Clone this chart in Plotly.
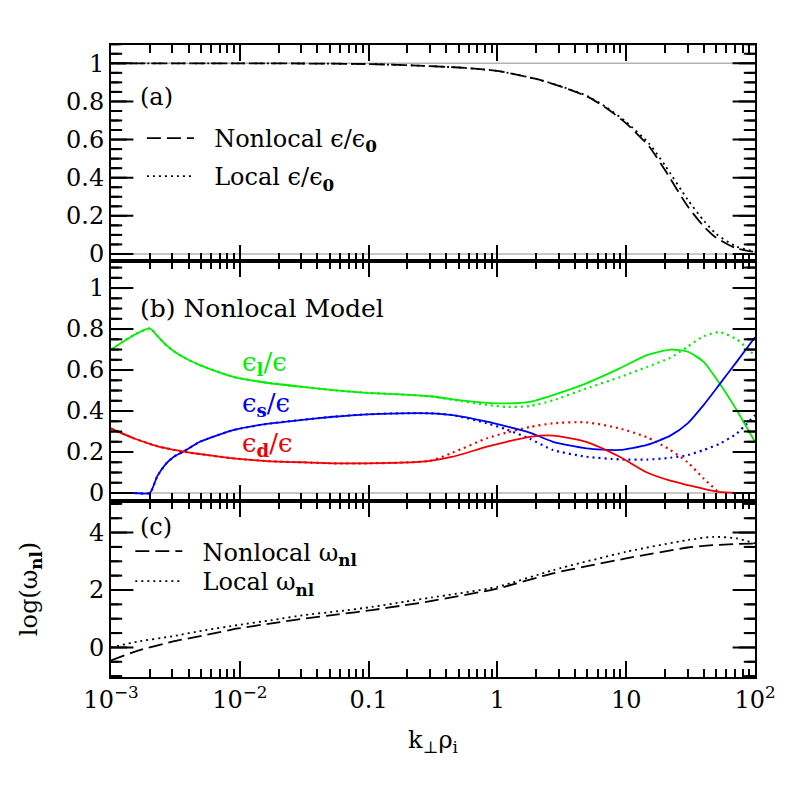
import plotly.graph_objects as go

# ---------------- data ----------------
# panel (a): normalized cascade energy
k_a = [0.001, 0.01, 0.03, 0.1, 0.2, 0.5, 1, 2, 3, 5, 7, 10, 15, 20, 30, 40, 50, 70, 100]
eps_nonlocal = [1.0, 1.0, 0.999, 0.996, 0.99, 0.978, 0.96, 0.918, 0.882, 0.825, 0.765,
                0.685, 0.565, 0.44, 0.25, 0.145, 0.085, 0.032, 0.01]
eps_local = [1.0, 1.0, 0.999, 0.996, 0.99, 0.978, 0.96, 0.918, 0.883, 0.828, 0.77,
             0.692, 0.58, 0.465, 0.285, 0.175, 0.105, 0.042, 0.012]

# panel (b): energy fractions
k_b = [0.001, 0.0015, 0.002, 0.0023, 0.0027, 0.0031, 0.0036, 0.0042, 0.0049, 0.0089,
       0.0162, 0.0294, 0.053, 0.097, 0.176, 0.3, 0.45, 0.83, 1.18, 1.78, 2.7, 4.9,
       8.9, 14.5, 22, 30, 40, 53, 72, 100]
el_nonlocal = [0.70, 0.77, 0.803, 0.765, 0.72, 0.69, 0.665, 0.643, 0.624, 0.567,
               0.538, 0.519, 0.502, 0.489, 0.481, 0.472, 0.457, 0.44, 0.437, 0.445,
               0.478, 0.535, 0.608, 0.673, 0.70, 0.69, 0.64, 0.535, 0.405, 0.25]
el_local = [0.70, 0.77, 0.803, 0.765, 0.72, 0.69, 0.665, 0.643, 0.624, 0.567,
            0.538, 0.519, 0.502, 0.489, 0.481, 0.472, 0.455, 0.43, 0.42, 0.424,
            0.452, 0.51, 0.565, 0.615, 0.66, 0.714, 0.765, 0.785, 0.75, 0.67]
es_nonlocal = [0, 0, 0, 0.085, 0.146, 0.178, 0.20, 0.225, 0.25, 0.307,
               0.337, 0.356, 0.372, 0.384, 0.389, 0.389, 0.38, 0.348, 0.325, 0.295,
               0.25, 0.218, 0.21, 0.235, 0.28, 0.34, 0.43, 0.53, 0.64, 0.76]
es_local = [0, 0, 0, 0.085, 0.146, 0.178, 0.20, 0.225, 0.25, 0.307,
            0.337, 0.356, 0.372, 0.384, 0.389, 0.389, 0.38, 0.34, 0.31, 0.265,
            0.21, 0.177, 0.164, 0.163, 0.172, 0.185, 0.21, 0.24, 0.29, 0.38]
ed_nonlocal = [0.315, 0.267, 0.24, 0.228, 0.218, 0.21, 0.203, 0.196, 0.19, 0.169,
               0.156, 0.15, 0.145, 0.145, 0.148, 0.157, 0.177, 0.226, 0.25, 0.274,
               0.28, 0.25, 0.177, 0.10, 0.06, 0.039, 0.02, 0.005, 0.0, None]
ed_local = [0.315, 0.267, 0.24, 0.228, 0.218, 0.21, 0.203, 0.196, 0.19, 0.169,
            0.156, 0.15, 0.145, 0.145, 0.148, 0.157, 0.197, 0.267, 0.295, 0.322,
            0.34, 0.345, 0.315, 0.272, 0.21, 0.15, 0.07, 0.0, None, None]

# panel (c): log nonlinear frequency
k_c = [0.001, 0.0016, 0.003, 0.0054, 0.0097, 0.0177, 0.032, 0.058, 0.106, 0.19,
       0.31, 1, 2.7, 10, 30, 47, 72, 100]
omega_nonlocal = [-0.45, -0.12, 0.2, 0.43, 0.66, 0.84, 1.01, 1.15, 1.30, 1.47,
                  1.62, 2.05, 2.58, 3.10, 3.48, 3.56, 3.60, 3.62]
omega_local = [0.0, 0.2, 0.39, 0.6, 0.78, 0.95, 1.13, 1.26, 1.41, 1.59,
               1.74, 2.11, 2.69, 3.33, 3.74, 3.85, 3.80, 3.62]

x_tickvals = [1e-3, 1e-2, 0.1, 1, 10, 100]
x_ticktext = ["10<sup>\u22123</sup>", "10<sup>\u22122</sup>", "0.1", "1", "10", "10<sup>2</sup>"]
ab_tickvals = [0, 0.2, 0.4, 0.6, 0.8, 1]
ab_ticktext = ["0", "0.2", "0.4", "0.6", "0.8", "1"]
c_tickvals = [0, 2, 4]
c_ticktext = ["0", "2", "4"]

# ---------------- style ----------------
FONT = "DejaVu Serif"
GREEN = "#00ee00"
BLUE = "#0000f0"
RED = "#f00000"
GRAY = "#b4b4b4"
DASH = "14px,6px"
DOT = "2px,4px"
X_LOG_RANGE = [-3, 2]
PLOT_W = 644.0   # plot-area width in px, used to size the y tick marks

fig = go.Figure()

def add(x, y, xa, ya, color, dash, width=1.8, name=None, legend="legend"):
    fig.add_trace(go.Scatter(
        x=x, y=y, xaxis=xa, yaxis=ya, mode="lines",
        line=dict(color=color, width=width, dash=dash, shape="spline", smoothing=0.6),
        name=name, showlegend=name is not None, legend=legend,
        hoverinfo="skip", connectgaps=False))

# panel a
add(k_a, eps_nonlocal, "x", "y", "black", DASH,
    name="  Nonlocal \u03f5/\u03f5<sub><b>0</b></sub>", legend="legend")
add(k_a, eps_local, "x", "y", "black", DOT,
    name="  Local \u03f5/\u03f5<sub><b>0</b></sub>", legend="legend2")

# panel b (dotted first so solid lies on top)
add(k_b, el_local, "x2", "y2", GREEN, DOT, width=2.2)
add(k_b, es_local, "x2", "y2", BLUE, DOT, width=2.2)
add(k_b, ed_local, "x2", "y2", RED, DOT, width=2.2)
add(k_b, el_nonlocal, "x2", "y2", GREEN, "solid")
add(k_b, es_nonlocal, "x2", "y2", BLUE, "solid")
add(k_b, ed_nonlocal, "x2", "y2", RED, "solid")

# panel c
add(k_c, omega_nonlocal, "x3", "y3", "black", DASH,
    name="  Nonlocal \u03c9<sub><b>nl</b></sub>", legend="legend3")
add(k_c, omega_local, "x3", "y3", "black", DOT,
    name="  Local \u03c9<sub><b>nl</b></sub>", legend="legend4")

minor_x = [m * 10 ** e for e in range(-3, 2) for m in range(2, 10)]
minor_ab = [round(i * 0.05, 3) for i in range(0, 23) if i % 4 != 0]
minor_c = [i * 0.5 for i in range(-2, 11) if i % 4 != 0]

# inside y tick marks on both sides: short segments plus clipped line markers
def ytick_traces(xa, ya, majors, minors):
    span = X_LOG_RANGE[1] - X_LOG_RANGE[0]
    lo, hi = 10 ** X_LOG_RANGE[0], 10 ** X_LOG_RANGE[1]
    for vals, ln in ((majors, 16), (minors, 8)):
        d = span * ln / PLOT_W
        for v in vals:
            for xs in ([lo, 10 ** (X_LOG_RANGE[0] + d)], [10 ** (X_LOG_RANGE[1] - d), hi]):
                fig.add_trace(go.Scatter(x=xs, y=[v, v], xaxis=xa, yaxis=ya,
                                         mode="lines", line=dict(color="black", width=2),
                                         showlegend=False, hoverinfo="skip"))
        fig.add_trace(go.Scatter(
            x=[lo] * len(vals) + [hi] * len(vals), y=list(vals) * 2,
            xaxis=xa, yaxis=ya, mode="markers", cliponaxis=True,
            marker=dict(symbol="line-ew", size=2 * ln, color="black",
                        line=dict(color="black", width=2)),
            showlegend=False, hoverinfo="skip"))

ytick_traces("x", "y", ab_tickvals, minor_ab)
ytick_traces("x2", "y2", ab_tickvals, minor_ab)
ytick_traces("x3", "y3", c_tickvals, minor_c)

def xaxis(anchor, labels):
    d = dict(type="log", range=X_LOG_RANGE, anchor=anchor, domain=[0, 1],
             showline=True, linecolor="black", linewidth=2, mirror="ticks",
             ticks="inside", ticklen=16, tickwidth=1.5, tickcolor="black",
             tickmode="array", tickvals=x_tickvals, showgrid=False, zeroline=False,
             minor=dict(tickmode="array", tickvals=minor_x, ticks="inside",
                        ticklen=8, tickwidth=1.5, tickcolor="black", showgrid=False),
             showticklabels=labels)
    if labels:
        d.update(ticktext=x_ticktext,
                 tickfont=dict(family=FONT, size=24, color="black"),
                 title=dict(text="k<sub>\u22a5</sub>\u03c1<sub>i</sub>",
                            font=dict(family=FONT, size=24, color="black"),
                            standoff=18))
    return d

def yaxis(anchor, domain, rng, tv, tt):
    return dict(anchor=anchor, domain=domain, range=rng,
                showline=True, linecolor="black", linewidth=2, mirror=True,
                ticks="", tickmode="array", tickvals=tv, ticktext=tt,
                showgrid=False, zeroline=False,
                tickfont=dict(family=FONT, size=24, color="black"))

ya = yaxis("x", [0.6582, 1.0], [-0.037, 1.096], ab_tickvals, ab_ticktext)
yb = yaxis("x2", [0.2785, 0.6582], [-0.039, 1.132], ab_tickvals, ab_ticktext)
yc = yaxis("x3", [0.0, 0.2785], [-1.03, 5.10], c_tickvals, c_ticktext)
yc["title"] = dict(text="log(\u03c9<sub><b>nl</b></sub>)",
                   font=dict(family=FONT, size=24, color="black"), standoff=45)

ann_font = dict(family=FONT, size=24, color="black")
annotations = [
    dict(text="(a)", x=-2.79, y=0.823, xref="x", yref="y", xanchor="left",
         yanchor="middle", showarrow=False, font=ann_font),
    dict(text="(b) Nonlocal Model", x=-2.79, y=0.90, xref="x2", yref="y2",
         xanchor="left", yanchor="middle", showarrow=False,
         font=dict(family=FONT, size=25, color="black")),
    dict(text="\u03f5<sub><b>l</b></sub>/\u03f5", x=-2.0, y=0.63, xref="x2", yref="y2",
         xanchor="left", yanchor="middle", showarrow=False,
         font=dict(family=FONT, size=26, color=GREEN)),
    dict(text="\u03f5<sub><b>s</b></sub>/\u03f5", x=-2.0, y=0.43, xref="x2", yref="y2",
         xanchor="left", yanchor="middle", showarrow=False,
         font=dict(family=FONT, size=26, color=BLUE)),
    dict(text="\u03f5<sub><b>d</b></sub>/\u03f5", x=-2.0, y=0.235, xref="x2", yref="y2",
         xanchor="left", yanchor="middle", showarrow=False,
         font=dict(family=FONT, size=26, color=RED)),
    dict(text="(c)", x=-2.79, y=4.19, xref="x3", yref="y3", xanchor="left",
         yanchor="middle", showarrow=False, font=ann_font),
]

# gray reference lines (y=0 and y=1 in panel a, y=0 in panel b)
shapes = [
    dict(type="line", xref="x domain", x0=0, x1=1, yref="y", y0=1, y1=1,
         line=dict(color=GRAY, width=1.5), layer="below"),
    dict(type="line", xref="x domain", x0=0, x1=1, yref="y", y0=0, y1=0,
         line=dict(color=GRAY, width=1.5), layer="below"),
    dict(type="line", xref="x2 domain", x0=0, x1=1, yref="y2", y0=0, y1=0,
         line=dict(color=GRAY, width=1.5), layer="below"),
]

def leg(x, y):
    return dict(x=x, y=y, xanchor="left", yanchor="top", xref="paper", yref="paper",
                bgcolor="rgba(0,0,0,0)", font=dict(family=FONT, size=24, color="black"),
                itemwidth=47)

fig.update_layout(
    width=789, height=789,
    margin=dict(l=103, r=42, t=37, b=120),
    paper_bgcolor="white", plot_bgcolor="white",
    font=dict(family=FONT, size=24, color="black"),
    xaxis=xaxis("y", False), xaxis2=xaxis("y2", False), xaxis3=xaxis("y3", True),
    yaxis=ya, yaxis2=yb, yaxis3=yc,
    annotations=annotations, shapes=shapes,
    legend=leg(0.048, 0.8877), legend2=leg(0.048, 0.8275),
    legend3=leg(0.03, 0.234), legend4=leg(0.03, 0.1867),
    showlegend=True,
)

fig.write_html("out.html")
